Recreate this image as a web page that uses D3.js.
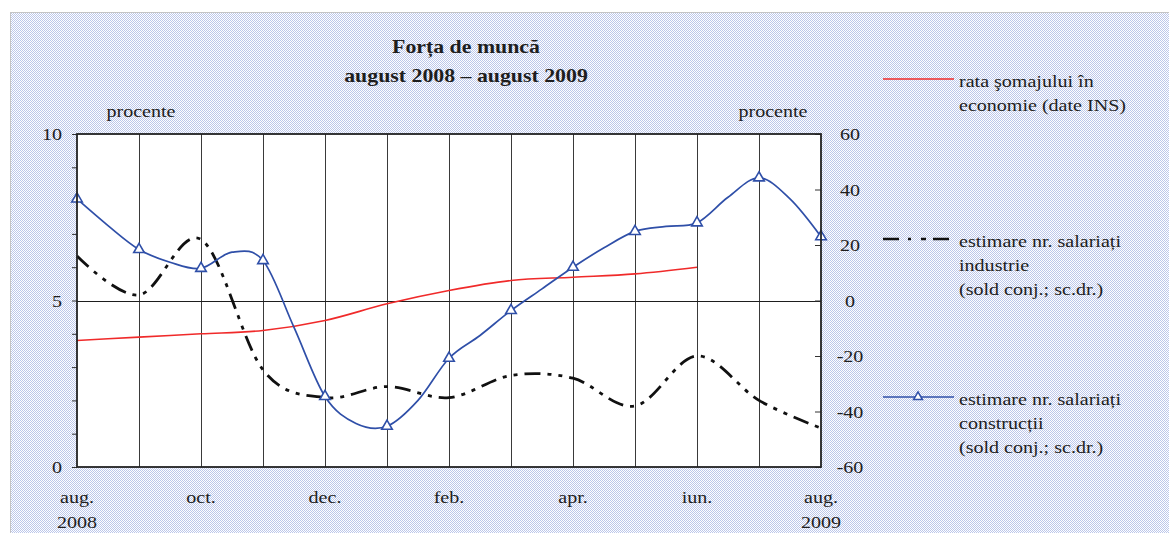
<html lang="ro">
    <head>
        <meta charset="utf-8">
        <title>Forța de muncă</title>
        <style>
        body { margin: 0; background: #ffffff; }
        svg text { font-family: "Liberation Serif", "DejaVu Serif", serif; fill: #1e1e1e; }
        </style>
        <script type="text/javascript" src="https://d3js.org/d3.v7.min.js"></script>
    </head>
    <body>
      <svg width="1169" height="533" id="chart"></svg>
      <script type="text/javascript">

// month index 0 = aug. 2008 ... 12 = aug. 2009
var monthLabels = ["aug.", "", "oct.", "", "dec.", "", "feb.", "", "apr.", "", "iun.", "", "aug."];
var yearLabels  = ["2008", "", "", "", "", "", "", "", "", "", "", "", "2009"];

// rata somajului (procente, scala stanga), aug 2008 - iun 2009
var unemploymentRate = [3.8, 3.9, 4.0, 4.1, 4.4, 4.9, 5.3, 5.6, 5.7, 5.8, 6.0];

// estimare nr. salariati industrie (sold conj., scala dreapta)
var industryBalance = [16, 2, 22, -25, -35, -31, -35, -27, -28, -38, -20, -36, -46];

// estimare nr. salariati constructii (sold conj., scala dreapta), lunar (cu marcaje)
var constructionBalance = [36.6, 18.4, 11.6, 14.4, -34.6, -45.3, -20.8, -3.6, 12, 24.9, 28, 44.2, 23];
// citiri la jumatatea lunii (fara marcaje)
var constructionMid = [27, 13.8, 17.4, -9.7, -44.3, -36, -12.6, 4.2, 19, 26.7, 37.2, 36.6];

var leftTicks = [0, 5, 10];
var rightTicks = [-60, -40, -20, 0, 20, 40, 60];

var svg = d3.select("#chart");

// the original picture is a bit wider than tall, so text is stretched
var SX = 1.18;
function addText(x, y, str, size, anchor, bold) {
  return svg.append("text")
      .attr("transform", "translate(" + x + "," + y + ") scale(" + SX + ",1)")
      .attr("text-anchor", anchor || "start")
      .style("font-size", size + "px")
      .style("font-weight", bold ? "bold" : "normal")
      .text(str);
}

// background with small dot pattern
var defs = svg.append("defs");
var pat = defs.append("pattern")
    .attr("id", "dots")
    .attr("width", 2).attr("height", 2)
    .attr("patternUnits", "userSpaceOnUse");
pat.append("rect").attr("width", 2).attr("height", 2).attr("fill", "#ffffff");
pat.append("rect").attr("x", 0).attr("y", 0).attr("width", 1).attr("height", 1).attr("fill", "#bcc7ea");
pat.append("rect").attr("x", 1).attr("y", 1).attr("width", 1).attr("height", 1).attr("fill", "#bcc7ea");

svg.append("rect")
    .attr("x", 10.5).attr("y", 12.5)
    .attr("width", 1170).attr("height", 530)
    .attr("fill", "url(#dots)")
    .attr("stroke", "#c4c4c4");

var margin = {top: 134, left: 77},
    width = 744,
    height = 333;

var x = d3.scaleLinear().domain([0, 12]).range([margin.left, margin.left + width]);
var yL = d3.scaleLinear().domain([0, 10]).range([margin.top + height, margin.top]);
var yR = d3.scaleLinear().domain([-60, 60]).range([margin.top + height, margin.top]);

// plot area
svg.append("rect")
    .attr("x", x(0)).attr("y", yL(10))
    .attr("width", width).attr("height", height)
    .attr("fill", "#ffffff");

// vertical month gridlines
svg.append("g")
  .selectAll("line")
  .data(d3.range(1, 12))
  .enter()
  .append("line")
    .attr("x1", d => Math.round(x(d)) + 0.5).attr("x2", d => Math.round(x(d)) + 0.5)
    .attr("y1", yL(10)).attr("y2", yL(0))
    .attr("stroke", "#3a3a3a")
    .attr("stroke-width", 1);

// horizontal gridline at 5 (left scale)
svg.append("line")
    .attr("x1", x(0)).attr("x2", x(12))
    .attr("y1", Math.round(yL(5)) + 0.5).attr("y2", Math.round(yL(5)) + 0.5)
    .attr("stroke", "#1e1e1e")
    .attr("stroke-width", 1.2);

// left axis: ticks every 1, labels at 0, 5, 10
var leftAxis = svg.append("g")
    .attr("transform", "translate(" + x(0) + ",0)")
    .call(d3.axisLeft(yL).tickValues(d3.range(0, 11)).tickSize(5).tickFormat(""));
leftAxis.select(".domain").remove();
leftAxis.selectAll("line").attr("stroke", "#333");
leftTicks.forEach(function(v) {
  addText(x(0) - 15, yL(v) + 6, v, 17, "end");
});

// right axis: inner ticks every 20
var rightAxis = svg.append("g")
    .attr("transform", "translate(" + x(12) + ",0)")
    .call(d3.axisRight(yR).tickValues(rightTicks).tickSize(-6).tickFormat(""));
rightAxis.select(".domain").remove();
rightAxis.selectAll("line").attr("stroke", "#333");
rightTicks.forEach(function(v) {
  addText(x(12) + 29, yR(v) + 6, v, 17, "middle");
});

// x axis labels
monthLabels.forEach(function(m, i) {
  if (m) addText(x(i), 503, m, 17, "middle");
  if (yearLabels[i]) addText(x(i), 528, yearLabels[i], 17, "middle");
});

// unit labels
addText(141, 117, "procente", 17, "middle");
addText(773, 117, "procente", 17, "middle");

// title
addText(466, 53, "Forța de muncă", 18.5, "middle", true);
addText(466, 82, "august 2008 – august 2009", 18.5, "middle", true);

// series lines
var redLine = d3.line()
    .x((d, i) => x(i))
    .y(d => yL(d))
    .curve(d3.curveMonotoneX);

var blackLine = d3.line()
    .x((d, i) => x(i))
    .y(d => yR(d))
    .curve(d3.curveCardinal.tension(0));

var blueLine = d3.line()
    .x(d => x(d.t))
    .y(d => yR(d.v))
    .curve(d3.curveCardinal.tension(0));

var bluePoints = [];
constructionBalance.forEach(function(v, i) {
  bluePoints.push({t: i, v: v});
  if (i < constructionMid.length) bluePoints.push({t: i + 0.5, v: constructionMid[i]});
});

svg.append("path")
    .datum(unemploymentRate)
    .attr("d", redLine)
    .attr("fill", "none")
    .attr("stroke", "#f02a2a")
    .attr("stroke-width", 1.6);

svg.append("path")
    .datum(industryBalance)
    .attr("d", blackLine)
    .attr("fill", "none")
    .attr("stroke", "#111")
    .attr("stroke-width", 2.8)
    .attr("stroke-dasharray", "16,7,4,7,4,7");

svg.append("path")
    .datum(bluePoints)
    .attr("d", blueLine)
    .attr("fill", "none")
    .attr("stroke", "#2f4fa8")
    .attr("stroke-width", 1.7);

var tri = d3.symbol().type(d3.symbolTriangle).size(48);
svg.append("g")
  .selectAll("path")
  .data(constructionBalance)
  .enter()
  .append("path")
    .attr("d", tri)
    .attr("transform", (d, i) => "translate(" + x(i) + "," + yR(d) + ")")
    .attr("fill", "#ffffff")
    .attr("stroke", "#2f4fa8")
    .attr("stroke-width", 1.6);

// frame
svg.append("rect")
    .attr("x", x(0)).attr("y", yL(10))
    .attr("width", width).attr("height", height)
    .attr("fill", "none")
    .attr("stroke", "#222")
    .attr("stroke-width", 1.8);

// legend
var legend = [
  {y: 79, lines: ["rata şomajului în", "economie (date INS)"], color: "#f02a2a", dash: null, w: 1.6, marker: false},
  {y: 239, lines: ["estimare nr. salariați", "industrie", "(sold conj.; sc.dr.)"], color: "#111", dash: "16,9,3,10,5,7", w: 2.6, marker: false},
  {y: 397, lines: ["estimare nr. salariați", "construcții", "(sold conj.; sc.dr.)"], color: "#2f4fa8", dash: null, w: 1.6, marker: true}
];

legend.forEach(function(l) {
  svg.append("line")
      .attr("x1", 883).attr("x2", 954)
      .attr("y1", l.y).attr("y2", l.y)
      .attr("stroke", l.color)
      .attr("stroke-width", l.w)
      .attr("stroke-dasharray", l.dash);
  if (l.marker) {
    svg.append("path")
        .attr("d", d3.symbol().type(d3.symbolTriangle).size(34))
        .attr("transform", "translate(918," + l.y + ")")
        .attr("fill", "#ffffff")
        .attr("stroke", l.color)
        .attr("stroke-width", 1.5);
  }
  l.lines.forEach(function(t, j) {
    addText(959, l.y + 8 + j * 24, t, 17, "start");
  });
});

      </script>
    </body>
</html>
